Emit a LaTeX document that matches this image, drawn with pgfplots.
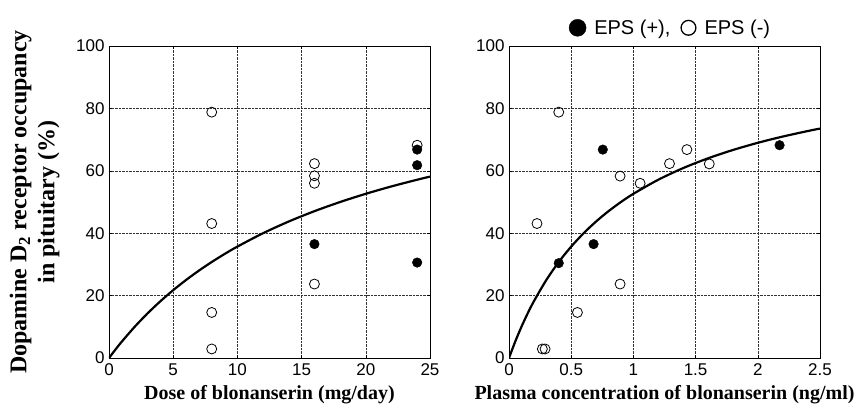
\documentclass[border=0pt]{standalone}
\usepackage{pgfplots}
\pgfplotsset{compat=1.18}
\usepackage{fontspec}
\setmainfont{Liberation Serif}
\setsansfont{Liberation Sans}

\pgfplotsset{
  occ/.style={
    scale only axis, height=312pt, ymin=0, ymax=100,
    ytick={0,20,...,100},
    grid=major, grid style={densely dotted, black!80, line width=0.5pt},
    axis line style={line width=0.6pt},
    tick style={black, line width=0.5pt}, tick align=inside, major tick length=3pt,
    tick label style={font=\sffamily\fontsize{17}{17}\selectfont},
    /pgf/number format/assume math mode=true,
    xlabel style={font=\bfseries\fontsize{20}{23}\selectfont, inner sep=0pt,
      at={(axis description cs:0.5,0)}, anchor=north, yshift=-27pt},
    xticklabel style={yshift=-2pt},
    yticklabel style={xshift=-1pt},
  },
  epsneg/.style={only marks, mark=o, mark size=5pt, mark options={line width=0.8pt, fill=white}},
  epspos/.style={only marks, mark=*, mark size=4.8pt, mark options={fill=black}},
  fit/.style={black, line width=2.2pt, no marks, smooth},
}

\begin{document}
\begin{tikzpicture}
\useasboundingbox (-109pt,-50pt) rectangle (756pt,358pt);
\begin{axis}[occ, width=321pt,
  xmin=0, xmax=25, xtick={0,5,...,25},
  xlabel={Dose of blonanserin (mg/day)},
  ylabel={\begin{tabular}{@{}c@{}}Dopamine D$_\mathbf{2}$ receptor occupancy\\in pituitary (\%)\end{tabular}},
  ylabel style={font=\bfseries\fontsize{24}{28}\selectfont, inner sep=0pt,
    at={(axis description cs:-0.143,0.5)}, anchor=south, rotate=0},
]
\addplot[fit] coordinates {
  (0,0) (0.5,2.70) (1,5.26) (2,10) (3,14.29) (4,18.18) (5,21.74) (6,25) (7,28)
  (8,30.77) (9,33.33) (10,35.71) (12,40) (14,43.75) (16,47.06) (18,50)
  (20,52.63) (22,55) (24,57.14) (25,58.14)
};
\addplot[epsneg] coordinates {
  (8,78.8) (8,43.1) (8,14.6) (8,2.9)
  (16,62.3) (16,58.4) (16,56) (16,23.7)
  (24,68.2)
};
\addplot[epspos] coordinates {
  (16,36.5) (24,66.8) (24,61.8) (24,30.6)
};
\end{axis}

\begin{axis}[occ, width=311pt, xshift=400pt,
  xmin=0, xmax=2.5, xtick={0,0.5,...,2.5},
  xticklabel style={/pgf/number format/fixed},
  xlabel={Plasma concentration of blonanserin (ng/ml)},
  legend columns=2,
  legend style={draw=none, fill=none, at={(0.5,1)}, anchor=south,
    yshift=8pt, xshift=6pt,
    font=\sffamily\fontsize{20}{20}\selectfont, inner sep=0pt,
    /tikz/every odd column/.append style={column sep=6pt},
    /tikz/every even column/.append style={column sep=8pt}},
  legend cell align=left,
]
\addplot[fit, forget plot] coordinates {
  (0,0) (0.05,5.26) (0.1,10) (0.15,14.29) (0.2,18.18) (0.3,25) (0.4,30.77)
  (0.5,35.71) (0.6,40) (0.7,43.75) (0.8,47.06) (0.9,50) (1.0,52.63)
  (1.2,57.14) (1.4,60.87) (1.6,64) (1.8,66.67) (2.0,68.97) (2.2,70.97)
  (2.4,72.73) (2.5,73.53)
};
\addplot[epspos, legend image code/.code={\fill[black] (8.5pt,0pt) circle (8.5pt);}] coordinates {
  (0.40,30.4) (0.68,36.5) (0.754,66.8) (2.175,68.2)
};
\addlegendentry{EPS (+),}
\addplot[epsneg, legend image code/.code={\draw[black, line width=1.3pt] (8pt,0pt) circle (7.4pt);}] coordinates {
  (0.225,43.1) (0.40,78.8) (0.268,2.9) (0.29,2.9) (0.55,14.6)
  (0.893,58.3) (0.893,23.7) (1.054,56) (1.29,62.3) (1.43,66.8) (1.61,62.2)
};
\addlegendentry{EPS (-)}
\end{axis}
\end{tikzpicture}
\end{document}
